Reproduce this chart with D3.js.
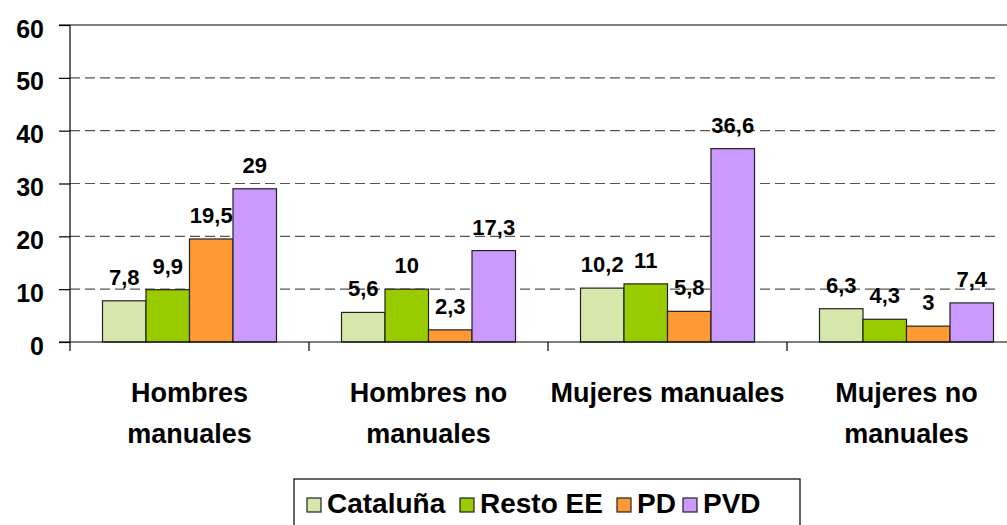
<!DOCTYPE html>
<html>
<head>
<meta charset="utf-8">
<script src="https://cdn.jsdelivr.net/npm/d3@7"></script>
<style>
  html, body { margin: 0; padding: 0; background: #fff; overflow: hidden; }
  svg { display: block; font-family: "Liberation Sans", Arial, sans-serif; font-weight: bold; }
</style>
</head>
<body>
<svg id="chart" width="1007" height="525"></svg>
<script>
const categories = [["Hombres", "manuales"], ["Hombres no", "manuales"], ["Mujeres manuales"], ["Mujeres no", "manuales"]];
const seriesNames = ["Cataluña", "Resto EE", "PD", "PVD"];
const seriesColors = ["#D5E7AB", "#99CC00", "#FF9933", "#CC99FF"];
const cataluna = [7.8, 5.6, 10.2, 6.3];
const restoEE = [9.9, 10, 11, 4.3];
const pd = [19.5, 2.3, 5.8, 3];
const pvd = [29, 17.3, 36.6, 7.4];
const yTicks = [0, 10, 20, 30, 40, 50, 60];
const valueLabels = [
  ["7,8", "5,6", "10,2", "6,3"],
  ["9,9", "10", "11", "4,3"],
  ["19,5", "2,3", "5,8", "3"],
  ["29", "17,3", "36,6", "7,4"]
];
const seriesValues = [cataluna, restoEE, pd, pvd];

const svg = d3.select("#chart");
const catKeys = categories.map((c, i) => i);
const x0 = d3.scaleBand().domain(catKeys).range([70, 70 + 4 * 239]).padding(0);
const x1 = d3.scaleBand().domain(d3.range(seriesNames.length)).range([32.5, 206.5]).padding(0);
const y = d3.scaleLinear().domain([0, 60]).range([342, 25]);

// gridlines
svg.append("g").selectAll("line").data(yTicks.filter(t => t > 0 && t < 60)).join("line")
  .attr("x1", 70).attr("x2", 1000)
  .attr("y1", d => y(d)).attr("y2", d => y(d))
  .attr("stroke", "#555").attr("stroke-width", 1.2).attr("stroke-dasharray", "10,5");
// top border
svg.append("line").attr("x1", 59).attr("x2", 1007).attr("y1", y(60)).attr("y2", y(60))
  .attr("stroke", "#000").attr("stroke-width", 1.2);

// y axis
const yAxis = d3.axisLeft(y).tickValues(yTicks).tickSize(11).tickPadding(15).tickFormat(d3.format("d"));
const gy = svg.append("g").attr("transform", "translate(70,0)").call(yAxis);
gy.select(".domain").remove();
gy.append("line").attr("x1", 0).attr("x2", 0).attr("y1", y(60)).attr("y2", 351).attr("stroke", "#000").attr("stroke-width", 1.2);
gy.selectAll(".tick line").attr("stroke", "#000").attr("stroke-width", 1.2);
gy.selectAll(".tick text").attr("font-size", 25).attr("font-weight", "bold").attr("fill", "#000")
  .attr("font-family", "'Liberation Sans', Arial, sans-serif").attr("dy", "0.48em");

// bars
const groups = svg.append("g").selectAll("g").data(catKeys).join("g")
  .attr("transform", d => `translate(${x0(d)},0)`);
groups.selectAll("rect").data(ci => seriesValues.map((s, si) => ({ si, v: s[ci], label: valueLabels[si][ci] }))).join("rect")
  .attr("x", d => x1(d.si)).attr("width", x1.bandwidth())
  .attr("y", d => y(d.v)).attr("height", d => y(0) - y(d.v))
  .attr("fill", d => seriesColors[d.si]).attr("stroke", "#222").attr("stroke-width", 1.2);
groups.selectAll("text.val").data(ci => seriesValues.map((s, si) => ({ si, v: s[ci], label: valueLabels[si][ci] }))).join("text")
  .attr("class", "val")
  .attr("x", d => x1(d.si) + x1.bandwidth() / 2).attr("y", d => y(d.v) - 16)
  .attr("text-anchor", "middle").attr("font-size", 22).attr("fill", "#000")
  .text(d => d.label);

// x axis baseline and category ticks
svg.append("line").attr("x1", 59).attr("x2", 1007).attr("y1", y(0)).attr("y2", y(0)).attr("stroke", "#000").attr("stroke-width", 1.2);
const xAxis = d3.axisBottom(x0).tickSize(0).tickFormat("");
const gx = svg.append("g").attr("transform", `translate(0,${y(0)})`).call(xAxis);
gx.select(".domain").remove();
gx.selectAll(".bound").data(catKeys.slice(1)).join("line").attr("class", "bound")
  .attr("x1", d => x0(d)).attr("x2", d => x0(d)).attr("y1", 0).attr("y2", 9)
  .attr("stroke", "#000").attr("stroke-width", 1.2);

// category labels
const catG = svg.append("g").selectAll("text").data(catKeys).join("text")
  .attr("x", d => x0(d) + x0.bandwidth() / 2)
  .attr("text-anchor", "middle").attr("font-size", 27).attr("fill", "#000");
catG.selectAll("tspan").data(d => categories[d].map((t, i) => ({ t, i }))).join("tspan")
  .attr("x", function () { return d3.select(this.parentNode).attr("x"); })
  .attr("y", d => 402 + d.i * 41)
  .text(d => d.t);

// legend
const legend = svg.append("g");
legend.append("rect").attr("x", 294).attr("y", 479).attr("width", 506).attr("height", 60)
  .attr("fill", "#fff").attr("stroke", "#000").attr("stroke-width", 1.2);
const legX = [307, 460, 617, 683];
const li = legend.selectAll("g").data(seriesNames).join("g")
  .attr("transform", (d, i) => `translate(${legX[i]},498)`);
li.append("rect").attr("width", 14).attr("height", 14)
  .attr("fill", (d, i) => seriesColors[i]).attr("stroke", "#222").attr("stroke-width", 1.2);
li.append("text").attr("x", 20).attr("y", 15).attr("font-size", 28).attr("fill", "#000").text(d => d);
</script>
</body>
</html>
